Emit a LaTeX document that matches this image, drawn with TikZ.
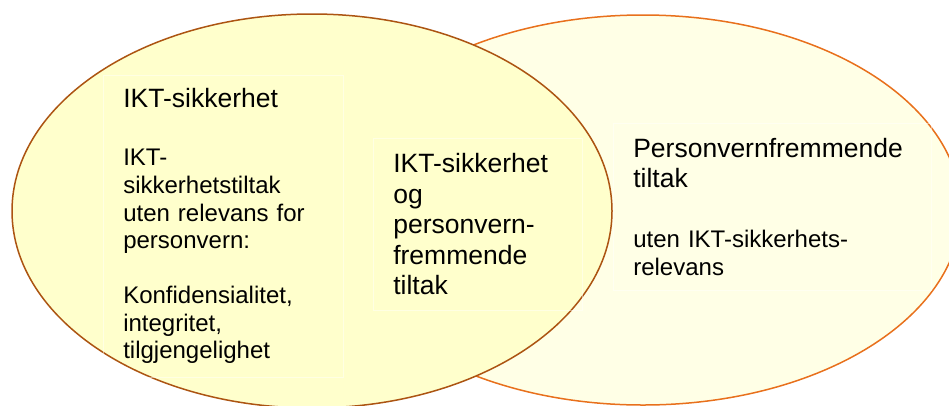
\documentclass[tikz,border=0pt]{standalone}
\usepackage{fontspec}
\setmainfont{Liberation Sans}
\usetikzlibrary{shapes.geometric, positioning}
\definecolor{paleyellow}{RGB}{255, 255, 204}
\definecolor{cream}{RGB}{255, 255, 230}
\definecolor{rust}{RGB}{172, 84, 18}
\definecolor{tangerine}{RGB}{232, 112, 28}

\begin{document}
\begin{tikzpicture}[x=1pt, y=-1pt,
            set/.style={ellipse, line width=1.5pt, inner sep=0pt},
            txtbox/.style={draw=white, draw opacity=0.45, line width=0.6pt, anchor=north west, align=left, inner xsep=20pt, inner ysep=0pt, font=\fontsize{24}{27.6}\selectfont}
        ]
            \useasboundingbox (0,0) rectangle (949,405);

            % Sets
            \node[set, draw=tangerine, fill=cream, minimum width=636pt, minimum height=390pt] (pv) at (643,210) {};
            \node[set, draw=rust, fill=paleyellow, minimum width=600pt, minimum height=394pt] (ikt) at (312,211) {};

            % Texts
            \node[txtbox, text width=200pt, minimum width=240pt, minimum height=302pt] (iktonly) at (103,75) {{\fontsize{26.5}{27.6}\selectfont IKT-sikkerhet}\\[30.4pt]
                IKT-\\
                sikkerhetstiltak\\
                uten relevans for\\
                personvern:\\[27.4pt]
                Konfidensialitet,\\
                integritet,\\
                tilgjengelighet};

            \node[txtbox, font=\fontsize{26.5}{30.5}\selectfont, text width=169pt, minimum width=209pt, minimum height=172pt] (both) at (373,138) {IKT-sikkerhet\\og\\personvern-\\fremmende\\tiltak};

            \node[txtbox, text width=278pt, minimum width=318pt, minimum height=167pt] (pvonly) at (613,123) {{\fontsize{26.5}{27.6}\selectfont Personvernfremmende}\\[2.9pt]
                {\fontsize{26.5}{27.6}\selectfont tiltak}\\[32.4pt]
                uten IKT-sikkerhets-\\
                relevans};

        \end{tikzpicture}
\end{document}
